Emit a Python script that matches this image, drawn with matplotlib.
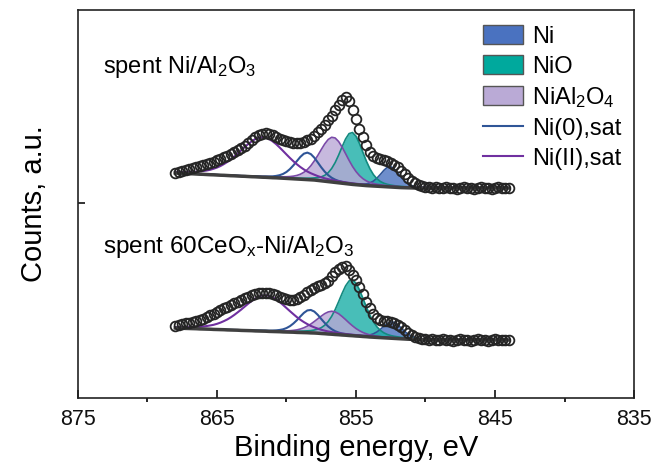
import numpy as np
import matplotlib
matplotlib.use("Agg")
import matplotlib.pyplot as plt
from matplotlib.patches import Patch
from matplotlib.lines import Line2D

plt.rcParams['font.family'] = ['Liberation Sans', 'DejaVu Sans']
plt.rcParams['mathtext.fontset'] = 'custom'
plt.rcParams['mathtext.rm'] = 'Liberation Sans'
plt.rcParams['mathtext.it'] = 'Liberation Sans'

# binding energy grid of the measured points (eV), 868 -> 844
energy = np.arange(868.0, 843.9, -0.25)

# spent Ni/Al2O3 (offset, arbitrary units)
upper_counts = [
	225, 226, 227, 228, 229, 230, 231, 232, 233, 234, 235, 236, 238, 239, 241, 242,
	244, 246, 248, 250, 252, 255, 258, 261, 263, 264, 265, 264, 263, 261, 259, 258,
	257, 256, 255, 255, 255, 256, 258, 259, 262, 266, 269, 273, 278, 282, 288, 293,
	298, 301, 297, 288, 279, 269, 261, 253, 246, 242, 240, 239, 238, 237, 235, 233,
	231, 227, 224, 220, 217, 215, 213, 212, 211, 211, 210, 211, 210, 210, 211, 210,
	210, 209, 210, 211, 210, 210, 209, 210, 211, 210, 210, 209, 210, 211, 210, 210,
	210]
upper_bg = [
	225.0, 224.8, 224.7, 224.5, 224.3, 224.2, 224.0, 223.8, 223.7, 223.5, 223.3, 223.2,
	223.0, 222.8, 222.7, 222.5, 222.3, 222.2, 222.0, 221.8, 221.7, 221.5, 221.3, 221.2,
	221.0, 220.8, 220.7, 220.5, 220.3, 220.2, 220.0, 219.8, 219.6, 219.4, 219.2, 219.0,
	218.8, 218.6, 218.4, 218.2, 218.0, 217.6, 217.2, 216.8, 216.4, 216.0, 215.6, 215.2,
	214.8, 214.4, 214.0, 213.6, 213.3, 213.0, 212.7, 212.4, 212.2, 212.0, 211.8, 211.6,
	211.4, 211.2, 211.0, 210.8, 210.6, 210.4, 210.3, 210.2, 210.1, 210.0, 210.0, 210.0,
	210.0, 210.0, 210.0, 210.0, 210.0, 210.0, 210.0, 210.0, 210.0, 210.0, 210.0, 210.0,
	210.0, 210.0, 210.0, 210.0, 210.0, 210.0, 210.0, 210.0, 210.0, 210.0, 210.0, 210.0,
	210.0]

# spent 60CeOx-Ni/Al2O3
lower_counts = [
	72, 73, 74, 75, 75, 76, 77, 78, 79, 81, 83, 84, 86, 88, 90, 91,
	93, 95, 96, 98, 100, 101, 103, 104, 105, 105, 105, 105, 104, 103, 101, 100,
	99, 98, 98, 99, 101, 103, 106, 108, 110, 112, 113, 115, 117, 122, 126, 129,
	131, 132, 128, 123, 118, 111, 104, 96, 90, 84, 80, 78, 77, 77, 76, 75,
	73, 71, 68, 65, 63, 61, 60, 59, 59, 58, 59, 58, 58, 59, 58, 58,
	57, 58, 59, 58, 58, 57, 58, 59, 58, 58, 57, 58, 59, 58, 58, 58,
	58]
lower_bg = [
	70.0, 69.9, 69.8, 69.6, 69.5, 69.4, 69.3, 69.1, 69.0, 68.9, 68.8, 68.6,
	68.5, 68.4, 68.3, 68.1, 68.0, 67.9, 67.8, 67.6, 67.5, 67.4, 67.3, 67.1,
	67.0, 66.9, 66.8, 66.6, 66.5, 66.4, 66.3, 66.1, 66.0, 65.9, 65.8, 65.6,
	65.5, 65.4, 65.3, 65.1, 65.0, 64.8, 64.5, 64.3, 64.0, 63.8, 63.5, 63.3,
	63.0, 62.8, 62.5, 62.3, 62.0, 61.8, 61.5, 61.3, 61.0, 60.8, 60.6, 60.4,
	60.2, 60.0, 59.8, 59.6, 59.4, 59.2, 59.0, 58.8, 58.7, 58.6, 58.5, 58.4,
	58.3, 58.2, 58.1, 58.0, 58.0, 58.0, 58.0, 58.0, 58.0, 58.0, 58.0, 58.0,
	58.0, 58.0, 58.0, 58.0, 58.0, 58.0, 58.0, 58.0, 58.0, 58.0, 58.0, 58.0,
	58.0]

# fitted components: Ni, NiO, NiAl2O4, Ni(0) sat, Ni(II) sat
comp_names = ["Ni", "NiO", "NiAl$_2$O$_4$", "Ni(0),sat", "Ni(II),sat"]
upper_center = [852.55, 855.3, 856.65, 858.5, 861.7]
upper_fwhm = [1.6, 2.0, 2.4, 2.0, 4.0]
upper_height = [20.5, 52, 45, 27, 40]
lower_center = [852.4, 855.3, 856.7, 858.3, 861.5]
lower_fwhm = [1.7, 2.2, 2.6, 2.0, 4.0]
lower_height = [16.5, 56, 23, 23, 36]

sample_labels = ["spent Ni/Al$_2$O$_3$", "spent 60CeO$_x$-Ni/Al$_2$O$_3$"]

fill_colors = ["#4a72c0", "#1aaea6", "#b9a8d6"]
edge_colors = ["#2f5597", "#138a80", "#7a4aa8"]
sat_colors = ["#2f5597", "#7030a0"]


def gl_peak(x, c, fwhm, h, mix=0.3):
	g = np.exp(-4 * np.log(2) * ((x - c) / fwhm) ** 2)
	l = 1 / (1 + 4 * ((x - c) / fwhm) ** 2)
	return h * ((1 - mix) * g + mix * l)


def draw_spectrum(ax, counts, bg, centers, fwhms, heights):
	bg = np.array(bg)
	for i in range(3):
		y = bg + gl_peak(energy, centers[i], fwhms[i], heights[i])
		ax.fill_between(energy, bg, y, color=fill_colors[i], alpha=0.8, lw=0, zorder=2)
		ax.plot(energy, y, color=edge_colors[i], lw=1.2, zorder=3)
	for i in range(3, 5):
		y = bg + gl_peak(energy, centers[i], fwhms[i], heights[i])
		ax.plot(energy, y, color=sat_colors[i - 3], lw=1.5, zorder=3)
	ax.plot(energy, bg, color="#404040", lw=2.5, zorder=4)
	ax.plot(energy, counts, 'o', mfc='none', mec='#252525', ms=7, mew=1.3, zorder=5)


fig = plt.figure(figsize=(6.57, 4.66), dpi=100)
ax = fig.add_axes([0.1187, 0.1459, 0.8463, 0.8326])

draw_spectrum(ax, upper_counts, upper_bg, upper_center, upper_fwhm, upper_height)
draw_spectrum(ax, lower_counts, lower_bg, lower_center, lower_fwhm, lower_height)

ax.text(873.2, 331, sample_labels[0], fontsize=17, va='center')
ax.text(873.2, 151, sample_labels[1], fontsize=17.5, va='center')

ax.set_xlim(875, 835)
ax.set_ylim(0, 388)
ax.set_xticks([875, 865, 855, 845, 835])
ax.set_xticks([870, 860, 850, 840], minor=True)
ax.set_yticks([195])
ax.set_yticklabels([])
ax.tick_params(axis='both', direction='in', labelsize=15.5, width=1.2, colors='#111111')
ax.tick_params(axis='x', which='major', length=6, pad=8)
ax.tick_params(axis='x', which='minor', length=3, width=1.2)
ax.tick_params(axis='y', length=5)
for s in ax.spines.values():
	s.set_linewidth(1.2)
	s.set_color('#222222')

ax.set_xlabel("Binding energy, eV", fontsize=21, labelpad=3)
ax.set_ylabel("Counts, a.u.", fontsize=21, labelpad=18)

handles = [Patch(fc=fill_colors[0], ec='#555555', lw=1),
	Patch(fc='#00a99d', ec='#555555', lw=1),
	Patch(fc='#baaad6', ec='#555555', lw=1),
	Line2D([], [], color=sat_colors[0], lw=1.5),
	Line2D([], [], color=sat_colors[1], lw=1.5)]
ax.legend(handles, comp_names, loc='upper left', bbox_to_anchor=(0.728, 0.961),
	frameon=False, fontsize=17, borderpad=0, borderaxespad=0,
	handlelength=1.7, handleheight=0.85, handletextpad=0.38, labelspacing=0.31)

fig.savefig("out.png", dpi=100)
